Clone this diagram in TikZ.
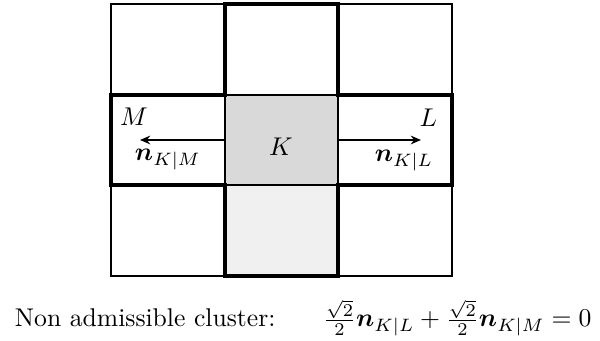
\documentclass[tikz,border=0pt]{standalone}
\usepackage{amsmath,amssymb,bm}
\usetikzlibrary{arrows.meta}
\begin{document}
\begin{tikzpicture}[x=0.39pt,y=-0.39pt,
  gridline/.style={line width=0.45pt},
  crossline/.style={line width=1.3pt, line join=miter},
  lbl/.style={inner sep=0pt, outer sep=0pt},
  normalarrow/.style={-{Stealth[length=4pt,width=3.4pt]}, line width=0.75pt}]
\useasboundingbox (0,0) rectangle (600,341);
% cell shading
\fill[black!15] (225,95) rectangle (338,185);
\fill[black!6] (225,185) rectangle (338,276);
% thin grid
\draw[gridline] (111,4) rectangle (452,276);
\draw[gridline] (225,4) -- (225,276) (338,4) -- (338,276)
  (111,95) -- (452,95) (111,185) -- (452,185);
% thick cross outline
\draw[crossline] (225,4) -- (338,4) -- (338,95) -- (452,95) -- (452,185)
  -- (338,185) -- (338,276) -- (225,276) -- (225,185) -- (111,185)
  -- (111,95) -- (225,95) -- cycle;
% normals
\coordinate (KW) at (225,140);
\coordinate (MT) at (140,140);
\coordinate (KE) at (338,140);
\coordinate (LT) at (421,140);
\draw[normalarrow] (KW) -- (MT);
\draw[normalarrow] (KE) -- (LT);
% labels
\node[lbl, anchor=base] (K) at (281,156) {$K$};
\node[lbl, anchor=base west] (M) at (120,126) {$M$};
\node[lbl, anchor=base east] (L) at (437,127) {$L$};
\node[lbl, anchor=base west] (nM) at (135,161) {$\boldsymbol{n}_{K|M}$};
\node[lbl, anchor=base east] (nL) at (433,162) {$\boldsymbol{n}_{K|L}$};
% caption
\node[lbl, anchor=base west] (cap) at (15,327) {Non admissible cluster:};
\node[lbl, anchor=base west] (eq) at (323,327)
  {$\frac{\sqrt{2}}{2}\boldsymbol{n}_{K|L}+\frac{\sqrt{2}}{2}\boldsymbol{n}_{K|M}=0$};
\end{tikzpicture}
\end{document}
